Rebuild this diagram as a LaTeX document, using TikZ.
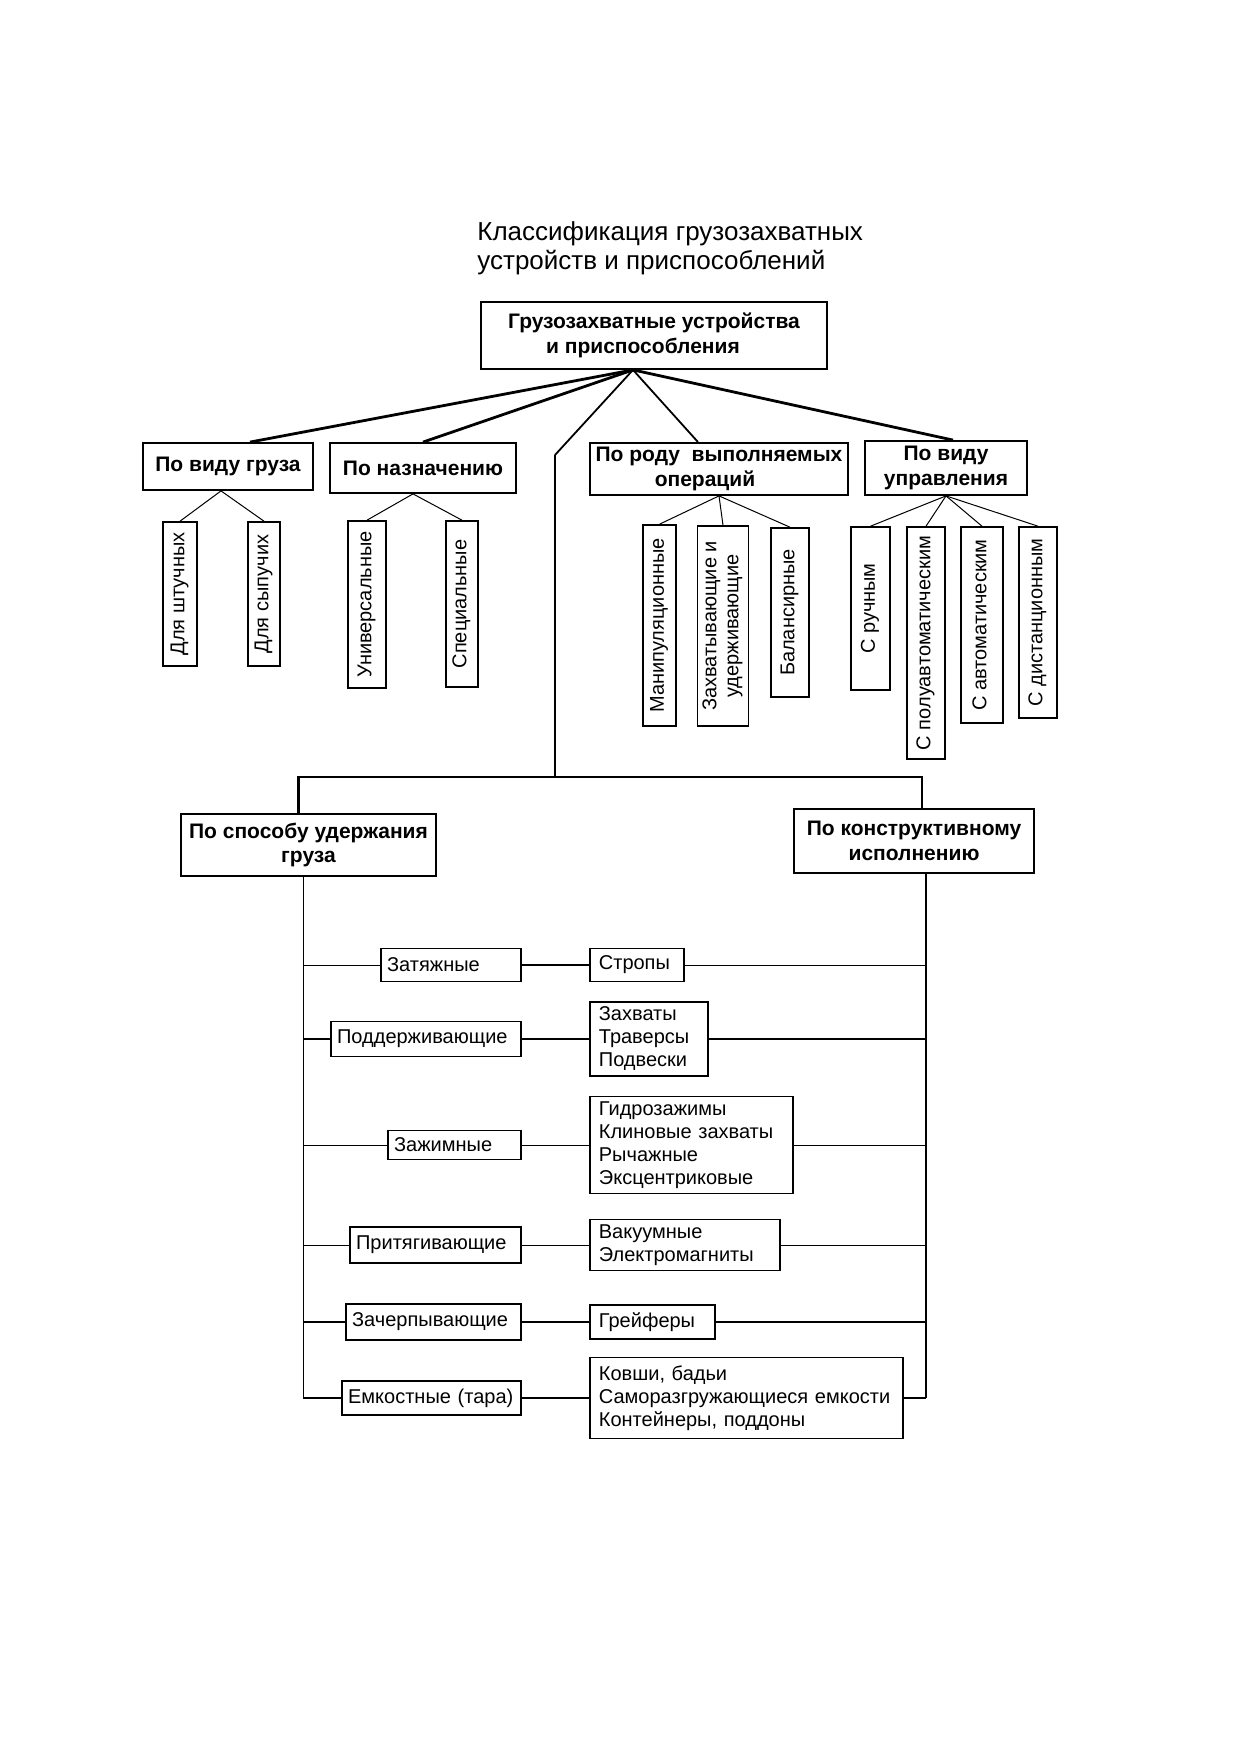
\documentclass[tikz,border=0pt]{standalone}
\usepackage{fontspec}
\setmainfont{Liberation Sans}

\newcommand{\rowfont}{\fontsize{10}{11.5}\selectfont}
\newcommand{\vtext}[1]{\rotatebox{90}{\begin{tabular}{@{}c@{}}#1\end{tabular}}}

\begin{document}
\begin{tikzpicture}[x=0.5pt, y=-0.5pt,
  headbox/.style={rectangle, draw, line width=0.9pt, align=center, inner sep=0pt, font=\bfseries\fontsize{10.5}{12.3}\selectfont},
  vbox/.style={rectangle, draw, line width=0.8pt, inner sep=0pt, font=\fontsize{10}{11}\selectfont},
  lbox/.style={rectangle, draw, line width=0.9pt, anchor=east, align=left, inner xsep=3pt, inner ysep=0pt, text width=#1, font=\rowfont},
  rbox/.style={rectangle, draw, line width=0.9pt, anchor=west, align=left, inner xsep=4.5pt, inner ysep=0pt, text width=#1, font=\rowfont},
  heavyline/.style={line width=1.4pt},
  midline/.style={line width=0.9pt},
  hairline/.style={line width=0.5pt}]
\useasboundingbox (0,0) rectangle (1239,1754);

% Title
\node[anchor=north west, inner sep=0pt, align=left, font=\fontsize{13}{14.5}\selectfont] (title) at (477,221) {Классификация грузозахватных\\устройств и приспособлений};

% Root
\node[headbox, align=left, minimum width=173pt, minimum height=33.5pt] (gzu) at (654,335.5) {Грузозахватные устройства\\\hspace*{19pt}и приспособления};

% First level
\node[headbox, minimum width=85pt, minimum height=23.5pt] (vid) at (228,466.5) {По виду груза};
\node[headbox, minimum width=93pt, minimum height=25pt] (naz) at (423,468) {По назначению};
\node[headbox, minimum width=129pt, minimum height=26pt] (rod) at (719,469) {По роду\ \ выполняемых\\операций\hspace*{14pt}};
\node[headbox, minimum width=81pt, minimum height=27pt] (upr) at (946,468) {По виду\\управления};

% Vertical leaves
\node[vbox, minimum width=16.75pt, minimum height=72pt] (shtuch) at (180,594) {\vtext{Для штучных}};
\node[vbox, minimum width=16.25pt, minimum height=72pt] (sypuch) at (264,594) {\vtext{Для сыпучих}};
\node[vbox, minimum width=19pt, minimum height=83.5pt] (univ) at (367,604.5) {\vtext{Универсальные}};
\node[vbox, minimum width=16.25pt, minimum height=83pt] (spec) at (462,604) {\vtext{Специальные}};
\node[vbox, minimum width=16.5pt, minimum height=100.5pt] (manip) at (659.5,625.5) {\vtext{Манипуляционные}};
\node[vbox, minimum width=25.5pt, minimum height=100pt] (zahv) at (723,626) {\vtext{Захватывающие и\\удерживающие}};
\node[vbox, minimum width=19pt, minimum height=84.5pt] (balans) at (790,612.5) {\vtext{Балансирные}};
\node[vbox, minimum width=19.5pt, minimum height=81.5pt] (ruch) at (870.5,608.5) {\vtext{С ручным}};
\node[vbox, minimum width=19.25pt, minimum height=116pt] (poluavt) at (926,643) {\vtext{С полуавтоматическим}};
\node[vbox, minimum width=21pt, minimum height=98pt] (avt) at (982,625) {\vtext{С автоматическим}};
\node[vbox, minimum width=19pt, minimum height=95.5pt] (dist) at (1038,622.5) {\vtext{С дистанционным}};

% Second level
\node[headbox, minimum width=127.5pt, minimum height=31pt] (sposob) at (308.5,845) {По способу удержания\\груза};
\node[headbox, minimum width=120pt, minimum height=32pt] (konstr) at (914,841) {По конструктивному\\исполнению};

% Holding method
\node[lbox=64pt, minimum height=16.5pt] (zat) at (522,965) {Затяжные};
\node[lbox=89pt, minimum height=17.5pt] (podd) at (522,1039) {Поддерживающие};
\node[lbox=60.5pt, minimum height=14.5pt] (zazh) at (522,1145) {Зажимные};
\node[lbox=79.5pt, minimum height=18pt] (prit) at (522,1245) {Притягивающие};
\node[lbox=81.5pt, minimum height=18pt] (zacher) at (522,1322) {Зачерпывающие};
\node[lbox=83.5pt, minimum height=17pt] (emk) at (522,1398) {Емкостные (тара)};

% Design
\node[rbox=38pt, minimum height=16.5pt] (strop) at (589,965) {Стропы};
\node[rbox=50pt, minimum height=37pt] (zahvaty) at (589,1039) {Захваты\\Траверсы\\Подвески};
\node[rbox=92.5pt, minimum height=48.5pt] (gidro) at (589,1145) {Гидрозажимы\\Клиновые захваты\\Рычажные\\Эксцентриковые};
\node[rbox=86pt, minimum height=25.5pt] (vakuum) at (589,1245) {Вакуумные\\Электромагниты};
\node[rbox=53.5pt, minimum height=17pt] (greif) at (589,1322) {Грейферы};
\node[rbox=147.5pt, minimum height=40.5pt] (kovsh) at (589,1398) {Ковши, бадьи\\Саморазгружающиеся емкости\\Контейнеры, поддоны};

% Connectors from the root
\coordinate (fork) at ([xshift=-10.5pt]gzu.south);
\coordinate (bend) at (555,455);
\coordinate (bus) at (555,777);
\draw[heavyline] (fork) -- ([xshift=11pt]vid.north);
\draw[heavyline] (fork) -- (naz.north);
\draw[midline] (fork) -- ([xshift=-10.5pt]rod.north);
\draw[heavyline] (fork) -- ([xshift=3.5pt]upr.north);
\draw[midline] (fork) -- (bend);
\draw[heavyline] (bend) -- (bus);
\draw[heavyline] ([xshift=-5pt]sposob.north) |- (bus) -| ([xshift=4pt]konstr.north);

% Leaves
\foreach \leaf in {shtuch,sypuch} \draw[hairline] ([xshift=-3.5pt]vid.south) -- (\leaf.north);
\foreach \leaf in {univ,spec} \draw[hairline] ([xshift=-5pt]naz.south) -- (\leaf.north);
\foreach \leaf in {manip,zahv,balans} \draw[hairline] (rod.south) -- (\leaf.north);
\foreach \leaf in {ruch,poluavt,avt,dist} \draw[hairline] (upr.south) -- (\leaf.north);

% Rows
\coordinate (L) at ([xshift=-2.75pt]sposob.south);
\coordinate (R) at ([xshift=6pt]konstr.south);
\draw[hairline] (L) -- (L |- emk.west);
\draw[heavyline] (R) -- (R |- kovsh.east);
\foreach \a/\b/\lw/\mw in {zat/strop/hairline/heavyline, podd/zahvaty/heavyline/heavyline,
  zazh/gidro/hairline/hairline, prit/vakuum/hairline/hairline,
  zacher/greif/heavyline/heavyline, emk/kovsh/heavyline/heavyline}{
  \draw[\lw] (L |- \a.west) -- (\a.west);
  \draw[\mw] (\a.east) -- (\b.west);
  \draw[\lw] (\b.east) -- (R |- \b.east);
}

\end{tikzpicture}
\end{document}
